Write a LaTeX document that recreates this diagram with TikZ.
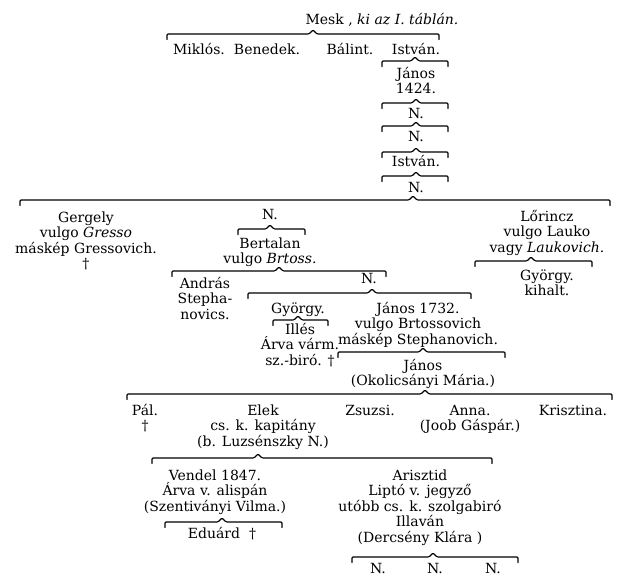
\documentclass[tikz,border=0pt]{standalone}
\usepackage{fontspec}
\setmainfont{DejaVu Serif}
\newcommand\kinline[5]{%
  \coordinate (#1-L) at (#2,#5);
  \coordinate (#1-R) at (#3,#5);
  \coordinate (#1-C) at (#4,#5);
  \draw[famline] ([yshift=-5.5pt]#1-L) -- (#1-L) -- ([xshift=-4pt]#1-C)
     -- ([yshift=4pt]#1-C) -- ([xshift=4pt]#1-C) -- (#1-R) -- ([yshift=-5.5pt]#1-R);}
\begin{document}
\begin{tikzpicture}[x=1pt,y=-1pt,
  person/.style={anchor=base,inner sep=0pt,align=center,
    font=\fontsize{14}{15.6}\selectfont},
  famline/.style={line width=1.1pt,line join=round,line cap=round,rounded corners=1pt}]
\useasboundingbox[fill=white] (0,0) rectangle (622,581);
% multi-line nodes are placed at the baseline of their last line
\node[person] (mesk) at (382,24) {Mesk , \textit{ki az I. táblán.}};
\kinline{f1}{167}{439}{313}{34}
\node[person] (miklos) at (199,54) {Miklós.};
\node[person] (benedek) at (267,54) {Benedek.};
\node[person] (balint) at (350,54) {Bálint.};
\node[person] (istvan1) at (416,54) {István.};
\kinline{f2}{382}{448}{415}{61}
\node[person] (janos1) at (416,93.6) {János\\1424.};
\kinline{f3}{382}{448}{416}{103}
\node[person] (n1) at (416,118) {N.};
\kinline{f4}{382}{448}{416}{126}
\node[person] (n2) at (416,141) {N.};
\kinline{f5}{382}{448}{416}{152}
\node[person] (istvan2) at (416,166) {István.};
\kinline{f6}{382}{448}{416}{176}
\node[person] (n3) at (416,192) {N.};
\kinline{f7}{20}{610}{413}{200}
\node[person] (gergely) at (86,268.8) {Gergely\\vulgo \textit{Gresso}\\máskép Gressovich.\\†};
\node[person] (n4) at (270,219) {N.};
\kinline{f8}{238}{305}{270}{229}
\node[person] (bertalan) at (270,263.6) {Bertalan\\vulgo \textit{Brtoss.}};
\node[person] (lorincz) at (547,252.2) {Lőrincz\\vulgo Lauko\\vagy \textit{Laukovich.}};
\kinline{f9}{475}{592}{531}{261}
\node[person] (gyorgy1) at (547,295.6) {György.\\kihalt.};
\kinline{f10}{172}{386}{279}{271}
\node[person] (andras) at (205,319.2) {András\\Stepha-\\novics.};
\node[person] (n5) at (369,283) {N.};
\kinline{f11}{248}{471}{372}{293}
\node[person] (gyorgy2) at (298,313) {György.};
\kinline{f12}{273}{328}{298}{320}
\node[person] (illes) at (300,365.2) {Illés\\Árva várm.\\sz.-biró. †};
\node[person] (janos2) at (418,344.2) {János 1732.\\vulgo Brtossovich\\máskép Stephanovich.};
\kinline{f13}{338}{505}{423}{352}
\node[person] (janos3) at (423,385.6) {János\\(Okolicsányi Mária.)};
\kinline{f14}{127}{612}{425}{394}
\node[person] (pal) at (145,430.6) {Pál.\\†};
\node[person] (elek) at (263,446.2) {Elek\\cs. k. kapitány\\(b. Luzsénszky N.)};
\node[person] (zsuzsi) at (370,415) {Zsuzsi.};
\node[person] (anna) at (470,430.6) {Anna.\\(Joob Gáspár.)};
\node[person] (krisztina) at (573,415) {Krisztina.};
\kinline{f15}{152}{492}{258}{458}
\node[person] (vendel) at (215,511.2) {Vendel 1847.\\Árva v. alispán\\(Szentiványi Vilma.)};
\node[person] (arisztid) at (420,542.4) {Arisztid\\Liptó v. jegyző\\utóbb cs. k. szolgabiró\\Illaván\\(Dercsény Klára )};
\kinline{f16}{165}{282}{222}{522}
\node[person] (eduard) at (222,538) {Eduárd \ †};
\kinline{f17}{352}{518}{433}{557}
\node[person] (n6) at (378,573) {N.};
\node[person] (n7) at (435,573) {N.};
\node[person] (n8) at (493,573) {N.};
\end{tikzpicture}
\end{document}
